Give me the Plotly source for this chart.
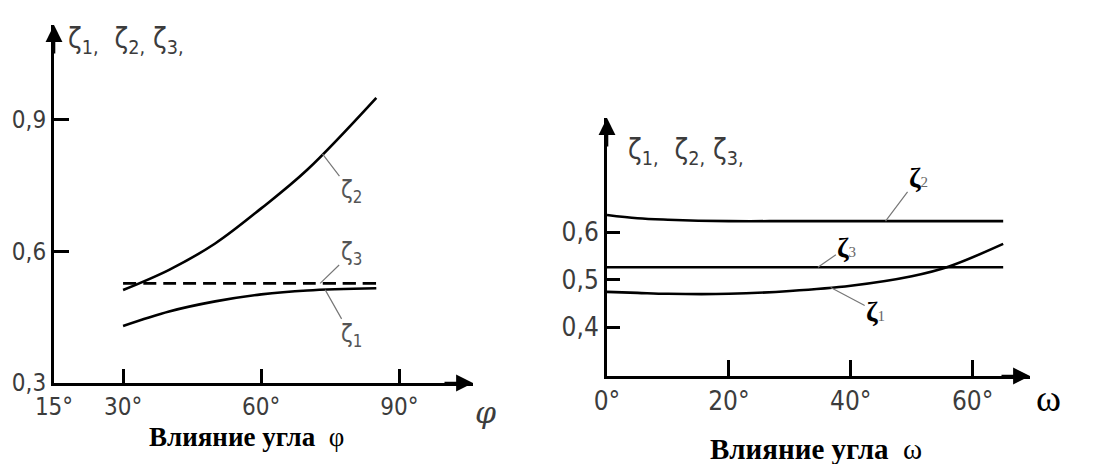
import numpy as np
import plotly.graph_objects as go

W, H = 1098, 464
OFF = 8  # page body margin offset

# ---- Left chart: influence of angle phi ----
phi = [30, 40, 50, 60, 70, 85]
zeta1_phi = [0.430, 0.463, 0.486, 0.502, 0.511, 0.516]
zeta2_phi = [0.512, 0.558, 0.618, 0.698, 0.786, 0.950]
zeta3_phi = [0.527, 0.527, 0.527, 0.527, 0.527, 0.527]
phi_ticks = [15, 30, 60, 90]
phi_ticktext = ["15°", "30°", "60°", "90°"]
left_yticks = [0.3, 0.6, 0.9]
left_yticktext = ["0,3", "0,6", "0,9"]

# ---- Right chart: influence of angle omega ----
omega = [0, 5, 10, 20, 30, 40, 50, 56, 65]
zeta1_om = [0.474, 0.472, 0.470, 0.470, 0.476, 0.487, 0.507, 0.527, 0.575]
zeta2_om = [0.636, 0.629, 0.626, 0.623, 0.623, 0.623, 0.623, 0.623, 0.623]
zeta3_om = [0.526, 0.526, 0.526, 0.526, 0.526, 0.526, 0.526, 0.526, 0.526]
om_ticks = [0, 20, 40, 60]
om_ticktext = ["0°", "20°", "40°", "60°"]
right_yticks = [0.4, 0.5, 0.6]
right_yticktext = ["0,4", "0,5", "0,6"]

TICKFONT = "DejaVu Sans Condensed, DejaVu Sans"
GREY = "#3c3c3c"

fig = go.Figure()

def add_line(x, y, xa, ya, dash="solid"):
    fig.add_trace(go.Scatter(x=x, y=y, mode="lines", xaxis=xa, yaxis=ya,
                             line=dict(color="black", width=2.6, dash=dash, shape="spline"),
                             showlegend=False, hoverinfo="skip"))

add_line(phi, zeta2_phi, "x", "y")
add_line(phi, zeta1_phi, "x", "y")
add_line(phi, zeta3_phi, "x", "y", dash="13px,7px")
add_line(omega, zeta2_om, "x2", "y2")
add_line(omega, zeta3_om, "x2", "y2")
add_line(omega, zeta1_om, "x2", "y2")

def px_x(p):
    return (p - OFF) / W

def px_y(p):
    return 1 - (p - OFF) / H

axis_common = dict(showgrid=False, zeroline=False, showline=True, linecolor="black",
                   linewidth=3, ticks="inside", tickcolor="black", tickwidth=3,
                   tickmode="array", fixedrange=True, automargin=False)

fig.update_layout(
    width=W, height=H,
    margin=dict(l=0, r=0, t=0, b=0, autoexpand=False),
    paper_bgcolor="white", plot_bgcolor="white",
    xaxis=dict(**axis_common, domain=[px_x(54), px_x(473)], range=[15, 106],
               tickvals=phi_ticks, ticktext=phi_ticktext, ticklen=14,
               tickfont=dict(family=TICKFONT, size=24, color=GREY), anchor="y"),
    yaxis=dict(**axis_common, domain=[px_y(383), px_y(25)], range=[0.3, 1.116],
               tickvals=left_yticks, ticktext=left_yticktext, ticklen=15,
               tickfont=dict(family=TICKFONT, size=24, color=GREY), anchor="x"),
    xaxis2=dict(**axis_common, domain=[px_x(607), px_x(1030)], range=[0, 69.4],
                tickvals=om_ticks, ticktext=om_ticktext, ticklen=16,
                tickfont=dict(family=TICKFONT, size=26, color=GREY), anchor="y2"),
    yaxis2=dict(**axis_common, domain=[px_y(376), px_y(118)], range=[0.297, 0.84],
                tickvals=right_yticks, ticktext=right_yticktext, ticklen=13,
                tickfont=dict(family=TICKFONT, size=26, color=GREY), anchor="x2"),
)

ann = []
# axis arrows
for xr, yr, x0, y0, x1, y1 in [("x", "y", 15, 1.116, 106, 0.3), ("x2", "y2", 0, 0.84, 69.4, 0.297)]:
    ann.append(dict(x=x0, y=y0, xref=xr, yref=yr, ax=0, ay=30, text="", showarrow=True,
                    arrowhead=2, arrowsize=1.3, arrowwidth=2.6, arrowcolor="black"))
    ann.append(dict(x=x1, y=y1, xref=xr, yref=yr, ax=-30, ay=0, text="", showarrow=True,
                    arrowhead=2, arrowsize=1.3, arrowwidth=2.6, arrowcolor="black"))

def paper_text(xp, yp, text, font, xanchor="center"):
    ann.append(dict(x=px_x(xp), y=px_y(yp), xref="paper", yref="paper", text=text,
                    xanchor=xanchor, yanchor="middle", showarrow=False, font=font))

# axis symbols
paper_text(485, 412, "<i>φ</i>", dict(family="DejaVu Serif", size=30, color=GREY))
paper_text(1048, 398, "ω", dict(family="Liberation Serif", size=38, color="black"))

# y labels at top
ylab = "ζ<sub>1,</sub>  ζ<sub>2,</sub> ζ<sub>3,</sub>"
paper_text(66, 40, ylab, dict(family=TICKFONT, size=28, color=GREY), xanchor="left")
paper_text(626, 152, ylab, dict(family=TICKFONT, size=28, color=GREY), xanchor="left")

# curve labels with leaders
def leader(xr, yr, xv, xs, ys, ax, ay, text, font):
    ann.append(dict(x=xv, y=float(np.interp(xv, xs, ys)), xref=xr, yref=yr, ax=ax, ay=ay,
                    text=text, showarrow=True, arrowhead=0, arrowwidth=1.2, arrowcolor="#777",
                    standoff=0, font=font))

lf = dict(family=TICKFONT, size=24, color="#555")
leader("x", "y", 73.3, phi, zeta2_phi, 29, 38, "ζ<sub>2</sub>", lf)
leader("x", "y", 72.8, phi, zeta3_phi, 31, -30, "ζ<sub>3</sub>", lf)
leader("x", "y", 73.9, phi, zeta1_phi, 26, 46, "ζ<sub>1</sub>", lf)

rf = dict(family="Liberation Serif", size=28, color="black")
leader("x2", "y2", 45.7, omega, zeta2_om, 33, -44,
       "<b>ζ</b><span style='font-size:15px;color:#666'>2</span>", rf)
leader("x2", "y2", 34.6, omega, zeta3_om, 29, -20,
       "<b>ζ</b><span style='font-size:15px;color:#666'>3</span>", rf)
leader("x2", "y2", 36.7, omega, zeta1_om, 45, 24,
       "<b>ζ</b><span style='font-size:15px;color:#666'>1</span>", rf)

# titles
paper_text(246, 437, "<b>Влияние угла</b>  φ", dict(family="Liberation Serif", size=27, color="black"))
paper_text(816, 449, "<b>Влияние угла</b>  ω", dict(family="Liberation Serif", size=29, color="black"))

fig.update_layout(annotations=ann)
fig.write_html("out.html")
